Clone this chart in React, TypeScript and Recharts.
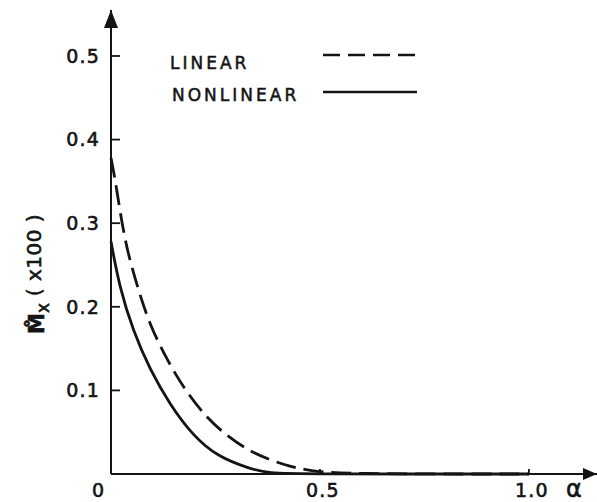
import React from "react"
import { LineChart, Line, XAxis, YAxis, Legend, ReferenceDot } from "recharts"

// alpha positions and M_x (x100) values
const alphaLinear = [0, 0.01, 0.022, 0.038, 0.065, 0.093, 0.134, 0.172, 0.23, 0.285, 0.333, 0.38, 0.428, 0.476, 0.55, 1.0]
const linearValues = [0.378, 0.352, 0.313, 0.268, 0.221, 0.178, 0.137, 0.104, 0.066, 0.043, 0.027, 0.017, 0.009, 0.004, 0, 0]

const alphaNonlinear = [0, 0.02, 0.053, 0.093, 0.141, 0.196, 0.254, 0.333, 0.38, 0.45, 1.0]
const nonlinearValues = [0.278, 0.224, 0.171, 0.125, 0.083, 0.046, 0.021, 0.006, 0.001, 0, 0]

const xTicks = [0, 0.5, 1.0]
const yTicks = [0.1, 0.2, 0.3, 0.4, 0.5]
const xMax = 1.163
const yMax = 0.555

const linearData = alphaLinear.map((a, i) => ({ alpha: a, value: linearValues[i] }))
const nonlinearData = alphaNonlinear.map((a, i) => ({ alpha: a, value: nonlinearValues[i] }))

const INK = "#141414"
const FONT = "'DejaVu Sans', sans-serif"
// slightly heavier glyphs, like the printed lettering
const textInk = { fill: INK, stroke: INK, strokeWidth: 0.6, fontFamily: FONT }

const YTick = (props: any) => {
  const { x, y, payload } = props
  return (
    <g>
      <line x1={x} y1={y} x2={x + 9} y2={y} stroke={INK} strokeWidth={1.8} />
      <text x={x - 11} y={y} dy="0.36em" textAnchor="end" fontSize={19} letterSpacing={1.2} {...textInk}>
        {payload.value.toFixed(1)}
      </text>
    </g>
  )
}

const XTick = (props: any) => {
  const { x, y, payload } = props
  if (payload.value === 0) {
    return (
      <text x={x - 13} y={y + 23} textAnchor="middle" fontSize={19} {...textInk}>
        0
      </text>
    )
  }
  return (
    <g>
      <line x1={x} y1={y} x2={x} y2={y - 5} stroke={INK} strokeWidth={1.8} />
      <text x={x + 3} y={y + 23} textAnchor="middle" fontSize={19} letterSpacing={1.2} {...textInk}>
        {payload.value.toFixed(1)}
      </text>
    </g>
  )
}

const YTitle = () => (
  <text x={44} y={334} transform="rotate(-90, 44, 334)" textAnchor="start" {...textInk}>
    <tspan fontSize={21} fontWeight="bold">{"M\u030A"}</tspan>
    <tspan fontSize={17} dy={5}>x</tspan>
    <tspan fontSize={20} dy={-8} letterSpacing={0.5}>{" ( x100 )"}</tspan>
  </text>
)

const XTitle = () => (
  <text x={574} y={497} textAnchor="middle" fontSize={24} {...textInk}>
    α
  </text>
)

const UpArrow = (props: any) => {
  const { cx, cy } = props
  return <path d={`M${cx},${cy} L${cx - 7},${cy + 18} L${cx + 7},${cy + 18} Z`} fill={INK} />
}

const RightArrow = (props: any) => {
  const { cx, cy } = props
  return <path d={`M${cx},${cy} L${cx - 14},${cy - 6} L${cx - 14},${cy + 6} Z`} fill={INK} />
}

const renderLegend = () => {
  const label: React.CSSProperties = {
    position: "absolute",
    left: 10,
    fontSize: 17,
    lineHeight: "18px",
    letterSpacing: 3,
    color: INK,
    fontFamily: FONT,
    whiteSpace: "nowrap",
    WebkitTextStroke: "0.5px " + INK,
  }
  return (
    <div style={{ position: "relative", width: 270, height: 70 }}>
      <span style={{ ...label, top: 14 }}>LINEAR</span>
      <span style={{ ...label, top: 46, left: 12 }}>NONLINEAR</span>
      <svg style={{ position: "absolute", left: 163, top: 0 }} width={96} height={70}>
        <line x1={0} y1={15} x2={94} y2={15} stroke={INK} strokeWidth={2.6} strokeDasharray="17 8" />
        <line x1={0} y1={52} x2={94} y2={52} stroke={INK} strokeWidth={2.6} />
      </svg>
    </div>
  )
}

export default function App() {
  return (
    <div style={{ position: "absolute", left: 0, top: 0, background: "#fff" }}>
      <LineChart width={597} height={502} margin={{ top: 10, right: 0, bottom: 0, left: 0 }}>
        <XAxis
          dataKey="alpha"
          type="number"
          domain={[0, xMax]}
          ticks={xTicks}
          tick={<XTick />}
          tickLine={false}
          tickSize={0}
          tickMargin={0}
          height={28}
          axisLine={{ stroke: INK, strokeWidth: 2 }}
          allowDuplicatedCategory={false}
          label={<XTitle />}
        />
        <YAxis
          type="number"
          domain={[0, yMax]}
          ticks={yTicks}
          tick={<YTick />}
          tickLine={false}
          tickSize={0}
          tickMargin={0}
          width={111}
          axisLine={{ stroke: INK, strokeWidth: 2 }}
          label={<YTitle />}
        />
        <Legend
          layout="horizontal"
          align="center"
          verticalAlign="middle"
          content={renderLegend}
          wrapperStyle={{ top: 40, left: 160, width: 270 }}
        />
        <Line
          data={linearData}
          dataKey="value"
          type="basis"
          stroke={INK}
          strokeWidth={2.8}
          strokeDasharray="20 8"
          dot={false}
          isAnimationActive={false}
          name="LINEAR"
        />
        <Line
          data={nonlinearData}
          dataKey="value"
          type="basis"
          stroke={INK}
          strokeWidth={2.8}
          dot={false}
          isAnimationActive={false}
          name="NONLINEAR"
        />
        <ReferenceDot x={0} y={yMax} r={0} shape={<UpArrow />} ifOverflow="visible" />
        <ReferenceDot x={xMax} y={0} r={0} shape={<RightArrow />} ifOverflow="visible" />
      </LineChart>
    </div>
  )
}
